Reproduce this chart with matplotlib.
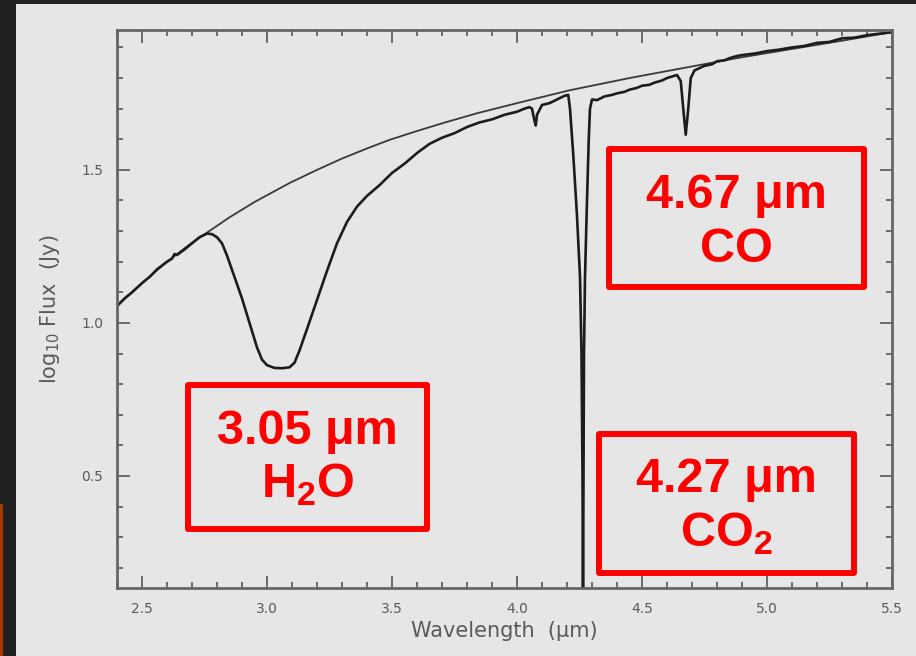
import matplotlib
matplotlib.use("Agg")
import matplotlib.pyplot as plt
from matplotlib.patches import Rectangle
from matplotlib.ticker import MultipleLocator

# continuum fit (wavelength in um, log10 flux in Jy)
contWave = [2.40, 2.50, 2.60, 2.70, 2.76, 2.85, 2.95, 3.09, 3.20, 3.30, 3.40, 3.49,
            3.60, 3.70, 3.84, 4.00, 4.21, 4.45, 4.68, 4.90, 5.10, 5.30, 5.50]
contFlux = [1.055, 1.13, 1.20, 1.262, 1.295, 1.345, 1.395, 1.457, 1.50, 1.537, 1.57, 1.598,
            1.627, 1.652, 1.685, 1.718, 1.76, 1.80, 1.835, 1.868, 1.895, 1.922, 1.95]

# observed spectrum
specWave = [2.40, 2.43, 2.46, 2.50, 2.53, 2.56, 2.60, 2.62, 2.63, 2.64, 2.67, 2.70,
            2.73, 2.76, 2.78, 2.80, 2.82, 2.84, 2.87, 2.90, 2.93, 2.96, 2.98, 3.00,
            3.03, 3.06, 3.09, 3.11, 3.13, 3.16, 3.20, 3.24, 3.28, 3.32, 3.36, 3.40,
            3.45, 3.50, 3.55, 3.60, 3.65, 3.70, 3.75, 3.80, 3.85, 3.90, 3.95, 4.00,
            4.03, 4.05, 4.06, 4.07, 4.075, 4.08, 4.10, 4.13, 4.16, 4.19, 4.205,
            4.212, 4.225, 4.24, 4.252, 4.258, 4.262, 4.264, 4.266, 4.268, 4.272,
            4.28, 4.287, 4.292, 4.30, 4.32, 4.35, 4.38, 4.40, 4.43, 4.45, 4.48,
            4.50, 4.53, 4.55, 4.58, 4.60, 4.64, 4.655, 4.665, 4.675, 4.685, 4.695,
            4.71, 4.75, 4.78, 4.80, 4.83, 4.85, 4.88, 4.90, 4.95, 5.00, 5.05, 5.10,
            5.15, 5.20, 5.25, 5.30, 5.35, 5.40, 5.45, 5.50]
specFlux = [1.055, 1.08, 1.10, 1.13, 1.15, 1.175, 1.20, 1.21, 1.225, 1.222, 1.24, 1.26,
            1.28, 1.292, 1.29, 1.28, 1.26, 1.22, 1.15, 1.08, 1.00, 0.92, 0.88, 0.862,
            0.853, 0.852, 0.855, 0.87, 0.91, 0.98, 1.075, 1.17, 1.26, 1.33, 1.38, 1.415,
            1.45, 1.49, 1.52, 1.555, 1.585, 1.605, 1.62, 1.64, 1.655, 1.665, 1.68, 1.69,
            1.70, 1.705, 1.70, 1.66, 1.645, 1.68, 1.712, 1.718, 1.73, 1.742, 1.745,
            1.70, 1.55, 1.35, 1.15, 0.90, 0.50, 0.05, 0.50, 0.90, 1.15,
            1.40, 1.60, 1.70, 1.73, 1.728, 1.74, 1.745, 1.75, 1.755, 1.762, 1.768,
            1.775, 1.778, 1.785, 1.792, 1.80, 1.81, 1.79, 1.70, 1.615, 1.70, 1.80,
            1.825, 1.84, 1.845, 1.855, 1.858, 1.865, 1.872, 1.875, 1.88, 1.888, 1.893, 1.90,
            1.905, 1.915, 1.918, 1.93, 1.932, 1.94, 1.945, 1.95]

# annotation boxes: label, molecule, box in figure pixels (x0, y0, x1, y1)
boxLabels = ["4.67 \u03bcm", "3.05 \u03bcm", "4.27 \u03bcm"]
boxMolecules = ["CO", r"H$_\mathbf{2}$O", r"CO$_\mathbf{2}$"]
boxPixels = [(609, 149, 864, 287), (188, 385, 427, 529), (599, 434, 854, 573)]

W, H = 916, 656
plt.rcParams["mathtext.fontset"] = "custom"
plt.rcParams["mathtext.bf"] = "Liberation Sans:bold"
plt.rcParams["mathtext.rm"] = "DejaVu Sans"

fig = plt.figure(figsize=(W / 100, H / 100), dpi=100)
fig.patch.set_facecolor("#212121")
fig.patches.append(Rectangle((16 / W, 0), 1 - 16 / W, 1 - 4 / H, transform=fig.transFigure,
                             facecolor="#e6e6e6", edgecolor="none", zorder=-2))
fig.patches.append(Rectangle((0, 0), 3 / W, 152 / H, transform=fig.transFigure,
                             facecolor="#a33a00", edgecolor="none", zorder=-2))

ax = fig.add_axes([117 / W, 1 - 588 / H, (892 - 117) / W, (588 - 30) / H])
ax.set_facecolor("#e6e6e6")
ax.plot(contWave, contFlux, color="#3a3a3a", lw=1.3)
ax.plot(specWave, specFlux, color="#1c1c1c", lw=1.9)
ax.set_xlim(2.4, 5.5)
ax.set_ylim(0.134, 1.957)

ax.xaxis.set_major_locator(MultipleLocator(0.5))
ax.xaxis.set_minor_locator(MultipleLocator(0.1))
ax.yaxis.set_major_locator(MultipleLocator(0.5))
ax.yaxis.set_minor_locator(MultipleLocator(0.1))
ax.tick_params(which="both", direction="in", top=True, right=True, color="#555555",
               labelcolor="#5a5a5a", labelsize=10, width=1.2)
ax.tick_params(which="major", length=9, pad=10)
ax.tick_params(which="minor", length=4.5)
for s in ax.spines.values():
    s.set_color("#666666")
    s.set_linewidth(2)

ax.set_xlabel("Wavelength  (\u03bcm)", fontsize=15, color="#5a5a5a", labelpad=4,
              family="DejaVu Sans")
ax.set_ylabel(r"log$_{10}$ Flux  (Jy)", fontsize=15, color="#5a5a5a", labelpad=14,
              family="DejaVu Sans")

for label, mol, (x0, y0, x1, y1) in zip(boxLabels, boxMolecules, boxPixels):
    fig.patches.append(Rectangle((x0 / W, 1 - y1 / H), (x1 - x0) / W, (y1 - y0) / H,
                                 transform=fig.transFigure, facecolor="none",
                                 edgecolor="#ff0000", lw=4.3, joinstyle="round", zorder=5))
    cx = (x0 + x1) / 2 / W
    fig.text(cx, 1 - (y0 + 46) / H, label, color="#ff0000", fontsize=35, fontweight="bold",
             family="Liberation Sans", ha="center", va="center", zorder=6)
    fig.text(cx, 1 - (y0 + 100) / H, mol, color="#ff0000", fontsize=35, fontweight="bold",
             family="Liberation Sans", ha="center", va="center", zorder=6)

fig.savefig("out.png", dpi=100, facecolor=fig.get_facecolor())
